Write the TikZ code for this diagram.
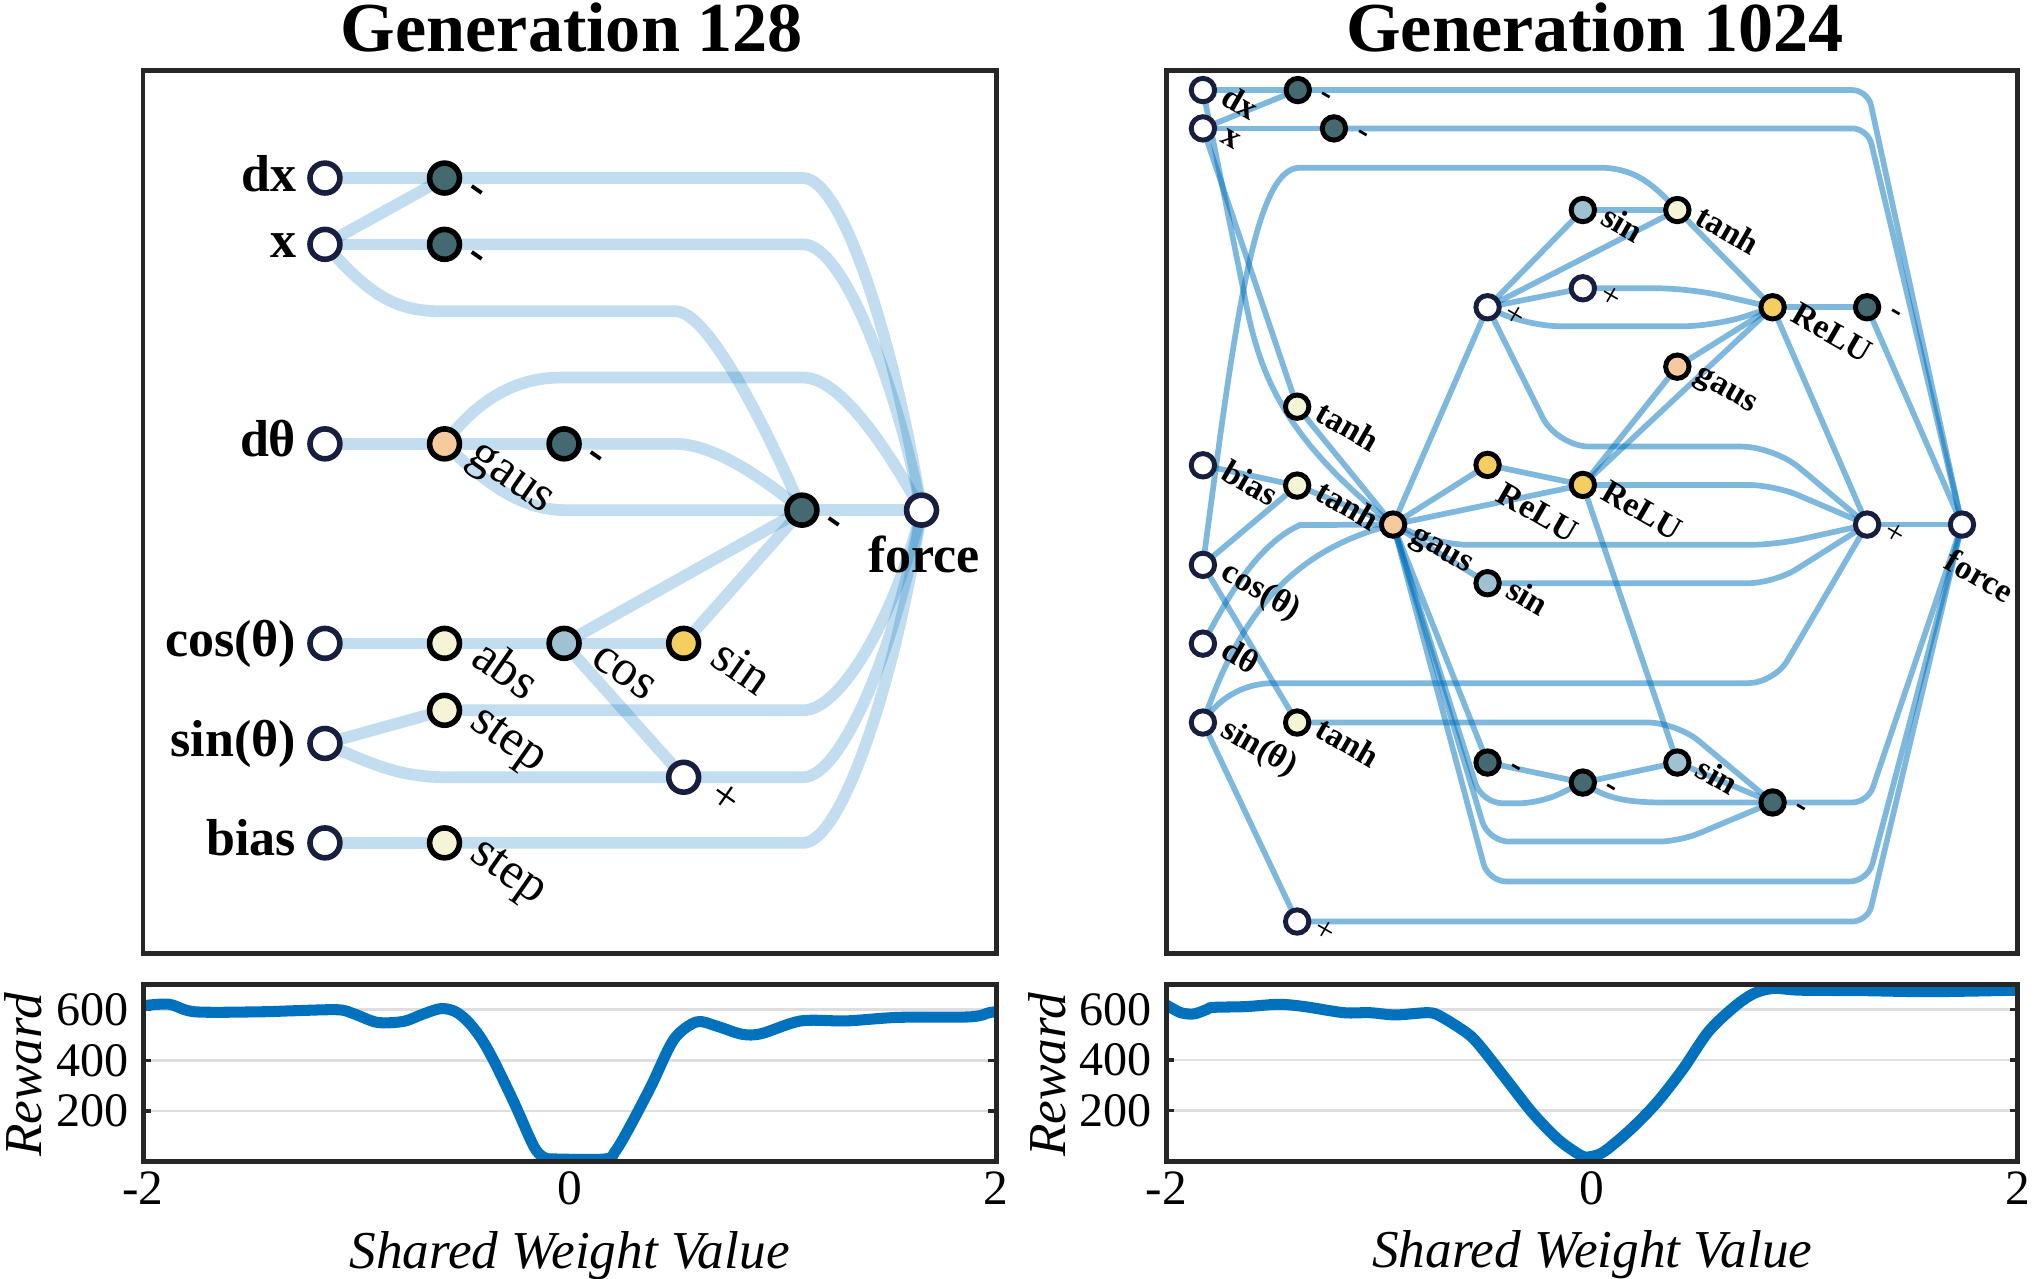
\documentclass[tikz,border=0pt]{standalone}
\usepackage{fontspec}
\setmainfont{Liberation Serif}
\usetikzlibrary{calc}
\pgfdeclarelayer{bgl}
\pgfdeclarelayer{edges}
\pgfsetlayers{bgl,edges,main}
\definecolor{edgeblue}{RGB}{0,114,189}
\definecolor{navy}{RGB}{24,30,62}
\definecolor{tealn}{RGB}{68,105,112}
\definecolor{peach}{RGB}{247,202,158}
\definecolor{cream}{RGB}{245,244,214}
\definecolor{bluegray}{RGB}{160,193,210}
\definecolor{goldn}{RGB}{244,206,94}
\definecolor{boxc}{RGB}{38,38,38}
\definecolor{gridc}{RGB}{222,222,222}
\begin{document}
\begin{tikzpicture}[x=1pt,y=-1pt,
  lnode/.style={circle, inner sep=0pt, minimum size=23pt, line width=4.3pt, draw=black},
  linp/.style={lnode, draw=navy, fill=white},
  lhid/.style={lnode, fill=#1},
  rnode/.style={circle, inner sep=0pt, minimum size=18pt, line width=3.8pt, draw=black},
  rinp/.style={rnode, draw=navy, fill=white},
  rhid/.style={rnode, fill=#1},
  ledge/.style={draw=edgeblue, line width=9pt, opacity=0.24},
  redge/.style={draw=edgeblue, line width=4.4pt, opacity=0.5},
  rc/.style={rounded corners=#1},
  llab/.style={anchor=base west, rotate=-35, inner sep=0pt, font=\fontsize{39}{43}\selectfont},
  lsym/.style={anchor=center, rotate=-35, inner sep=0pt, font=\fontsize{36}{40}\selectfont},
  rlab/.style={anchor=base west, rotate=-30, inner sep=0pt, font=\fontsize{26}{30}\selectfont\bfseries},
  rsym/.style={anchor=center, rotate=-30, inner sep=0pt, font=\fontsize{26}{30}\selectfont\bfseries},
  linlab/.style={anchor=base east, inner sep=0pt, font=\fontsize{40}{44}\selectfont\bfseries},
  ttl/.style={anchor=base, inner sep=0pt, font=\fontsize{54}{60}\selectfont\bfseries},
  ytk/.style={anchor=east, inner sep=0pt, xshift=-11pt, font=\fontsize{37}{40}\selectfont},
  xtk/.style={anchor=north, inner sep=0pt, yshift=-8pt, font=\fontsize{38}{42}\selectfont},
  axl/.style={inner sep=0pt, font=\fontsize{41}{46}\selectfont\itshape},
  curve/.style={draw=edgeblue, line width=8.5pt, line join=round, line cap=round},
  frame/.style={draw=boxc, line width=3.8pt},
  gridl/.style={draw=gridc, line width=2pt},
  tickl/.style={draw=boxc, line width=2.5pt}
]
\useasboundingbox (0,0) rectangle (1568,984);
\begin{pgfonlayer}{bgl}
\fill[white] (0,0) rectangle (1568,984);
\end{pgfonlayer}

% titles
\node[ttl] (t1) at (440,40) {Generation 128};
\node[ttl] (t2) at (1227,40) {Generation 1024};

% frames
\draw[frame] (110,54.3) rectangle (766.5,733.3);
\draw[frame] (897.5,54.3) rectangle (1552.5,733.3);

% ---------------- left network nodes
\node[linp] (Ldx) at (250,137) {};
\node[linp] (Lx) at (250,188) {};
\node[linp] (Ldth) at (250,341.5) {};
\node[linp] (Lcos) at (250,495) {};
\node[linp] (Lsin) at (250,572) {};
\node[linp] (Lbias) at (250,648.5) {};
\node[lhid=tealn] (Ln1) at (342,137) {};
\node[lhid=tealn] (Ln2) at (342,188) {};
\node[lhid=peach] (Lgaus) at (342,341.5) {};
\node[lhid=tealn] (Ln3) at (434,341.5) {};
\node[lhid=tealn] (Ln4) at (617,392.5) {};
\node[linp] (Lforce) at (709,392.5) {};
\node[lhid=cream] (Labs) at (342,495) {};
\node[lhid=bluegray] (Lcosf) at (434,495) {};
\node[lhid=goldn] (Lsinf) at (526,495) {};
\node[lhid=cream] (Lstep1) at (342,546.5) {};
\node[linp] (Lmul) at (526,598) {};
\node[lhid=cream] (Lstep2) at (342,648.5) {};

% left labels
\node[linlab] (lab1) at ([shift={(-22,10)}]Ldx.center) {dx};
\node[linlab] (lab2) at ([shift={(-22,10)}]Lx.center) {x};
\node[linlab] (lab3) at ([shift={(-22,10)}]Ldth.center) {dθ};
\node[linlab] (lab4) at ([shift={(-22,10)}]Lcos.center) {cos(θ)};
\node[linlab] (lab5) at ([shift={(-22,10)}]Lsin.center) {sin(θ)};
\node[linlab] (lab6) at ([shift={(-22,10)}]Lbias.center) {bias};
\node[linlab, anchor=base] (lab7) at ([shift={(2,48)}]Lforce.center) {force};
\node[lsym] (lab8) at ([shift={(23,12)}]Ln1.center) {\bfseries -};
\node[lsym] (lab9) at ([shift={(23,12)}]Ln2.center) {\bfseries -};
\node[llab] (lab10) at ([shift={(17,13)}]Lgaus.center) {gaus};
\node[lsym] (lab11) at ([shift={(23,12)}]Ln3.center) {\bfseries -};
\node[lsym] (lab12) at ([shift={(23,12)}]Ln4.center) {\bfseries -};
\node[llab] (lab13) at ([shift={(19,15)}]Labs.center) {abs};
\node[llab] (lab14) at ([shift={(19,15)}]Lcosf.center) {cos};
\node[llab] (lab15) at ([shift={(19,15)}]Lsinf.center) {sin};
\node[llab] (lab16) at ([shift={(18,12)}]Lstep1.center) {step};
\node[lsym] (lab17) at ([shift={(32,16)}]Lmul.center) {+};
\node[llab] (lab18) at ([shift={(18,12)}]Lstep2.center) {step};

% ---------------- right network nodes
\node[rinp] (Rdx) at (925.5,69.3) {};
\node[rinp] (Rx) at (925.5,98.8) {};
\node[rinp] (Rbias) at (925.5,358) {};
\node[rinp] (Rcos) at (925.5,434.6) {};
\node[rinp] (Rdth) at (925.5,495.2) {};
\node[rinp] (Rsin) at (925.5,555.9) {};
\node[rhid=tealn] (Rn1) at (998.5,69.3) {};
\node[rhid=tealn] (Rn2) at (1026.3,98.8) {};
\node[rhid=bluegray] (RsinA) at (1217.8,161.6) {};
\node[rhid=cream] (RtanhA) at (1290.5,161.6) {};
\node[rinp] (RaddA) at (1217.8,221.8) {};
\node[rinp] (RaddB) at (1144.5,236.4) {};
\node[rhid=goldn] (RreluA) at (1363.8,236.4) {};
\node[rhid=tealn] (RnegA) at (1436.5,236.4) {};
\node[rhid=peach] (RgausA) at (1290.5,282.1) {};
\node[rhid=cream] (RtanhB) at (998,312.9) {};
\node[rhid=cream] (RtanhC) at (998,373.6) {};
\node[rhid=goldn] (RreluB) at (1144.5,357.7) {};
\node[rhid=goldn] (RreluC) at (1217.8,373.1) {};
\node[rhid=peach] (RgausH) at (1071.8,403.6) {};
\node[rinp] (RaddC) at (1436.5,403.6) {};
\node[rinp] (Rforce) at (1509.5,403.6) {};
\node[rhid=bluegray] (RsinB) at (1144.5,448.7) {};
\node[rhid=cream] (RtanhD) at (998,555.9) {};
\node[rhid=tealn] (RnegB) at (1144.5,586.7) {};
\node[rhid=tealn] (RnegC) at (1217.8,602.1) {};
\node[rhid=bluegray] (RsinC) at (1290.5,586.7) {};
\node[rhid=tealn] (RnegD) at (1363.8,617.4) {};
\node[rinp] (RmulA) at (998,709) {};

% right labels
\node[rlab] (r1) at ([shift={(12.5,10)}]Rdx.center) {dx};
\node[rlab] (r2) at ([shift={(12.5,10)}]Rx.center) {x};
\node[rlab] (r3) at ([shift={(12.5,10)}]Rbias.center) {bias};
\node[rlab] (r4) at ([shift={(12.5,10)}]Rcos.center) {cos(θ)};
\node[rlab] (r5) at ([shift={(12.5,10)}]Rdth.center) {dθ};
\node[rlab] (r6) at ([shift={(12.5,10)}]Rsin.center) {sin(θ)};
\node[rsym] (r7) at ([shift={(21,6)}]Rn1.center) {-};
\node[rsym] (r8) at ([shift={(21,6)}]Rn2.center) {-};
\node[rlab] (r9) at ([shift={(12.5,10)}]RsinA.center) {sin};
\node[rlab] (r10) at ([shift={(12.5,10)}]RtanhA.center) {tanh};
\node[rsym] (r11) at ([shift={(21,7)}]RaddA.center) {\mdseries +};
\node[rsym] (r12) at ([shift={(21,7)}]RaddB.center) {\mdseries +};
\node[rlab] (r13) at ([shift={(12.5,10)}]RreluA.center) {ReLU};
\node[rsym] (r14) at ([shift={(21,6)}]RnegA.center) {-};
\node[rlab] (r15) at ([shift={(12.5,10)}]RgausA.center) {gaus};
\node[rlab] (r16) at ([shift={(12.5,10)}]RtanhB.center) {tanh};
\node[rlab] (r17) at ([shift={(12.5,10)}]RtanhC.center) {tanh};
\node[rlab] (r18) at ([shift={(5.5,27)}]RreluB.center) {ReLU};
\node[rlab] (r19) at ([shift={(12.5,10)}]RreluC.center) {ReLU};
\node[rlab] (r20) at ([shift={(12.5,12)}]RgausH.center) {gaus};
\node[rsym] (r21) at ([shift={(21,7)}]RaddC.center) {\mdseries +};
\node[rlab] (r22) at ([shift={(-15,33)}]Rforce.center) {force};
\node[rlab] (r23) at ([shift={(12.5,10)}]RsinB.center) {sin};
\node[rlab] (r24) at ([shift={(12.5,10)}]RtanhD.center) {tanh};
\node[rsym] (r25) at ([shift={(21,6)}]RnegB.center) {-};
\node[rsym] (r26) at ([shift={(21,6)}]RnegC.center) {-};
\node[rlab] (r27) at ([shift={(12.5,10)}]RsinC.center) {sin};
\node[rsym] (r28) at ([shift={(21,6)}]RnegD.center) {-};
\node[rsym] (r29) at ([shift={(21,7)}]RmulA.center) {\mdseries +};

\begin{pgfonlayer}{edges}
% left edges
\draw[ledge] (Ldx.center) -- (Ln1.center);
\draw[ledge] (Lx.center) -- (Ln1.center);
\draw[ledge] (Lx.center) -- (Ln2.center);
\draw[ledge] (Ln1.center) -- (618,137) .. controls (648,137) and (688,262) .. (Lforce.center);
\draw[ledge] (Ln2.center) -- (618,188) .. controls (648,188) and (688,290) .. (Lforce.center);
\draw[ledge] (Lx.center) .. controls (285,228) and (305,239.5) .. (340,239.5) -- (520,239.5) .. controls (545,239.5) and (590,330) .. (Ln4.center);
\draw[ledge] (Ldth.center) -- (Lgaus.center);
\draw[ledge] (Lgaus.center) -- (Ln3.center);
\draw[ledge] (Lgaus.center) .. controls (365,310) and (395,290.5) .. (431,290.5) -- (618,290.5) .. controls (648,290.5) and (685,350) .. (Lforce.center);
\draw[ledge] (Ln3.center) -- (520,341.5) .. controls (550,341.5) and (590,370) .. (Ln4.center);
\draw[ledge] (Lgaus.center) .. controls (372,370) and (400,392.5) .. (435,392.5) -- (Ln4.center);
\draw[ledge] (Ln4.center) -- (Lforce.center);
\draw[ledge] (Lcos.center) -- (Labs.center);
\draw[ledge] (Labs.center) -- (Lcosf.center);
\draw[ledge] (Lcosf.center) -- (Lsinf.center);
\draw[ledge] (Lcosf.center) -- (Ln4.center);
\draw[ledge] (Lsinf.center) -- (Ln4.center);
\draw[ledge] (Lcosf.center) -- (Lmul.center);
\draw[ledge] (Lsin.center) -- (Lstep1.center);
\draw[ledge] (Lsin.center) .. controls (290,590) and (310,598) .. (345,598) -- (Lmul.center);
\draw[ledge] (Lstep1.center) -- (618,546.5) .. controls (648,546.5) and (690,470) .. (Lforce.center);
\draw[ledge] (Lmul.center) -- (618,598) .. controls (648,598) and (690,495) .. (Lforce.center);
\draw[ledge] (Lbias.center) -- (Lstep2.center);
\draw[ledge] (Lstep2.center) -- (618,648.5) .. controls (648,648.5) and (690,520) .. (Lforce.center);

% right edges
\draw[redge] (Rdx.center) -- (Rn1.center);
\draw[redge] (Rx.center) -- (Rn1.center);
\draw[redge] (Rx.center) -- (Rn2.center);
\draw[redge, rc=12pt] (Rn1.center) -- (1437,69.3) -- (Rforce.center);
\draw[redge, rc=12pt] (Rn2.center) -- (1437,98.8) -- (Rforce.center);
\draw[redge] (Rx.center) -- (RtanhB.center);
\draw[redge] (Rdx.center) -- (957,225) .. controls (968,285) and (985,335) .. (RgausH.center);
\draw[redge] (RtanhB.center) -- (RgausH.center);
\draw[redge] (Rbias.center) -- (RtanhC.center);
\draw[redge] (Rcos.center) -- (RtanhC.center);
\draw[redge] (RtanhC.center) -- (RgausH.center);
\draw[redge] (Rcos.center) .. controls (950,250) and (965,129) .. (1000,129) -- (1230,129) .. controls (1258,129) and (1272,142) .. (RtanhA.center);
\draw[redge] (Rcos.center) -- (RtanhD.center);
\draw[redge] (Rdth.center) .. controls (942,465) and (965,420) .. (1000,404) -- (RgausH.center);
\draw[redge] (Rsin.center) .. controls (950,485) and (985,425) .. (RgausH.center);
\draw[redge, rc=20pt] (Rsin.center) .. controls (940,533) and (962,525.6) .. (1000,525.6) -- (1365,525.6) -- (RaddC.center);
\draw[redge] (Rsin.center) -- (RmulA.center);
\draw[redge, rc=12pt] (RmulA.center) -- (1437,709) -- (Rforce.center);
\draw[redge, rc=22pt] (RtanhD.center) -- (1290,555.9) -- (RnegD.center);
\draw[redge] (RgausH.center) -- (RreluB.center);
\draw[redge] (RgausH.center) -- (RreluC.center);
\draw[redge] (RgausH.center) -- (RaddB.center);
\draw[redge] (RgausH.center) -- (RsinB.center);
\draw[redge, rc=20pt] (RgausH.center) -- (1110,419.2) -- (1366,419.2) -- (RaddC.center);
\draw[redge] (RgausH.center) -- (RnegB.center);
\draw[redge, rc=16pt] (RgausH.center) -- (1140,618) -- (1185,618) -- (RnegC.center);
\draw[redge, rc=16pt] (RgausH.center) -- (1145,647.5) -- (1292,647.5) -- (RnegD.center);
\draw[redge, rc=14pt] (RgausH.center) -- (1145,678.2) -- (1437,678.2) -- (Rforce.center);
\draw[redge] (RnegB.center) -- (RnegC.center);
\draw[redge] (RnegC.center) -- (RsinC.center);
\draw[redge] (RsinC.center) -- (RnegD.center);
\draw[redge] (RnegC.center) .. controls (1235,614) and (1250,617.4) .. (1280,617.4) -- (RnegD.center);
\draw[redge, rc=12pt] (RnegD.center) -- (1437,617.4) -- (Rforce.center);
\draw[redge] (RreluB.center) -- (RreluC.center);
\draw[redge] (RreluC.center) -- (RreluA.center);
\draw[redge] (RreluC.center) -- (RgausA.center);
\draw[redge] (RreluC.center) -- (RsinC.center);
\draw[redge, rc=20pt] (RreluC.center) -- (1365,373.1) -- (RaddC.center);
\draw[redge, rc=20pt] (RsinB.center) -- (1365,448.7) -- (RaddC.center);
\draw[redge] (RaddB.center) -- (RsinA.center);
\draw[redge] (RaddB.center) -- (RtanhA.center);
\draw[redge] (RaddB.center) -- (RaddA.center);
\draw[redge, rc=25pt] (RaddB.center) -- (1175,251) -- (1320,251) -- (RreluA.center);
\draw[redge, rc=25pt] (RaddB.center) -- (1198,343.6) -- (1365,343.6) -- (RaddC.center);
\draw[redge, rc=25pt] (RaddA.center) -- (1300,221.8) -- (RreluA.center);
\draw[redge] (RsinA.center) -- (RtanhA.center);
\draw[redge] (RtanhA.center) -- (RreluA.center);
\draw[redge] (RgausA.center) -- (RreluA.center);
\draw[redge] (RreluA.center) -- (RnegA.center);
\draw[redge] (RreluA.center) -- (RaddC.center);
\draw[redge] (RnegA.center) -- (Rforce.center);
\draw[redge] (RaddC.center) -- (Rforce.center);
\end{pgfonlayer}

% ---------------- left plot
\begin{scope}[shift={(438.25,893.6)}, x=164.1pt, y=0.1945pt]
  \foreach \v in {200,400,600} {
    \draw[gridl] (-2,\v) -- (2,\v);
    \draw[tickl] (-2,\v) -- ++(6pt,0pt);
    \draw[tickl] (2,\v) -- ++(-6pt,0pt);
  }
  \begin{scope}
    \clip (-2,0) rectangle (2,700);
    \draw[curve] plot[smooth, tension=0.5] coordinates {(-2,616) (-1.878,622) (-1.756,592) (-1.45,592) (-1.298,596) (-1.084,600) (-1.008,583) (-0.901,550) (-0.779,554) (-0.687,583) (-0.602,605) (-0.534,592) (-0.473,550) (-0.412,483) (-0.351,391) (-0.26,232) (-0.168,60) (-0.122,17) (-0.076,10) (0.168,10) (0.214,40) (0.275,126) (0.382,298) (0.489,483) (0.595,552) (0.687,536) (0.809,503) (0.901,506) (1.084,556) (1.298,556) (1.542,570) (1.878,572) (1.969,589) (2,592)};
  \end{scope}
  \draw[frame] (-2,0) rectangle (2,700);
  \node[ytk] (ly6) at (-2,600) {600};
  \node[ytk] (ly4) at (-2,400) {400};
  \node[ytk] (ly2) at (-2,200) {200};
  \node[xtk] (lxa) at (-2,0) {-2};
  \node[xtk] (lxb) at (0,0) {0};
  \node[xtk] (lxc) at (2,0) {2};
  \node[axl, anchor=base] (lxl) at (0,0) [yshift=-82pt] {Shared Weight Value};
\end{scope}
\node[axl, rotate=90] (lyl) at (18,827) {Reward};

% ---------------- right plot
\begin{scope}[shift={(1225,893.3)}, x=163.75pt, y=0.1945pt]
  \foreach \v in {200,400,600} {
    \draw[gridl] (-2,\v) -- (2,\v);
    \draw[tickl] (-2,\v) -- ++(6pt,0pt);
    \draw[tickl] (2,\v) -- ++(-6pt,0pt);
  }
  \begin{scope}
    \clip (-2,0) rectangle (2,700);
    \draw[curve] plot[smooth, tension=0.5] coordinates {(-2,617) (-1.933,587) (-1.871,582) (-1.81,600) (-1.78,608) (-1.627,611) (-1.474,620) (-1.351,611) (-1.168,587) (-1.045,587) (-0.923,578) (-0.77,587) (-0.709,571) (-0.586,505) (-0.525,453) (-0.402,321) (-0.28,190) (-0.158,84) (-0.05,21) (-0.005,18) (0.057,38) (0.179,124) (0.301,229) (0.424,361) (0.546,512) (0.669,611) (0.76,663) (0.852,683) (0.975,676) (1.281,674) (1.587,670) (2,676)};
  \end{scope}
  \draw[frame] (-2,0) rectangle (2,700);
  \node[ytk] (ry6) at (-2,600) {600};
  \node[ytk] (ry4) at (-2,400) {400};
  \node[ytk] (ry2) at (-2,200) {200};
  \node[xtk] (rxa) at (-2,0) {-2};
  \node[xtk] (rxb) at (0,0) {0};
  \node[xtk] (rxc) at (2,0) {2};
  \node[axl, anchor=base] (rxl) at (0,0) [yshift=-82pt] {Shared Weight Value};
\end{scope}
\node[axl, rotate=90] (ryl) at (806,827) {Reward};
\end{tikzpicture}
\end{document}
